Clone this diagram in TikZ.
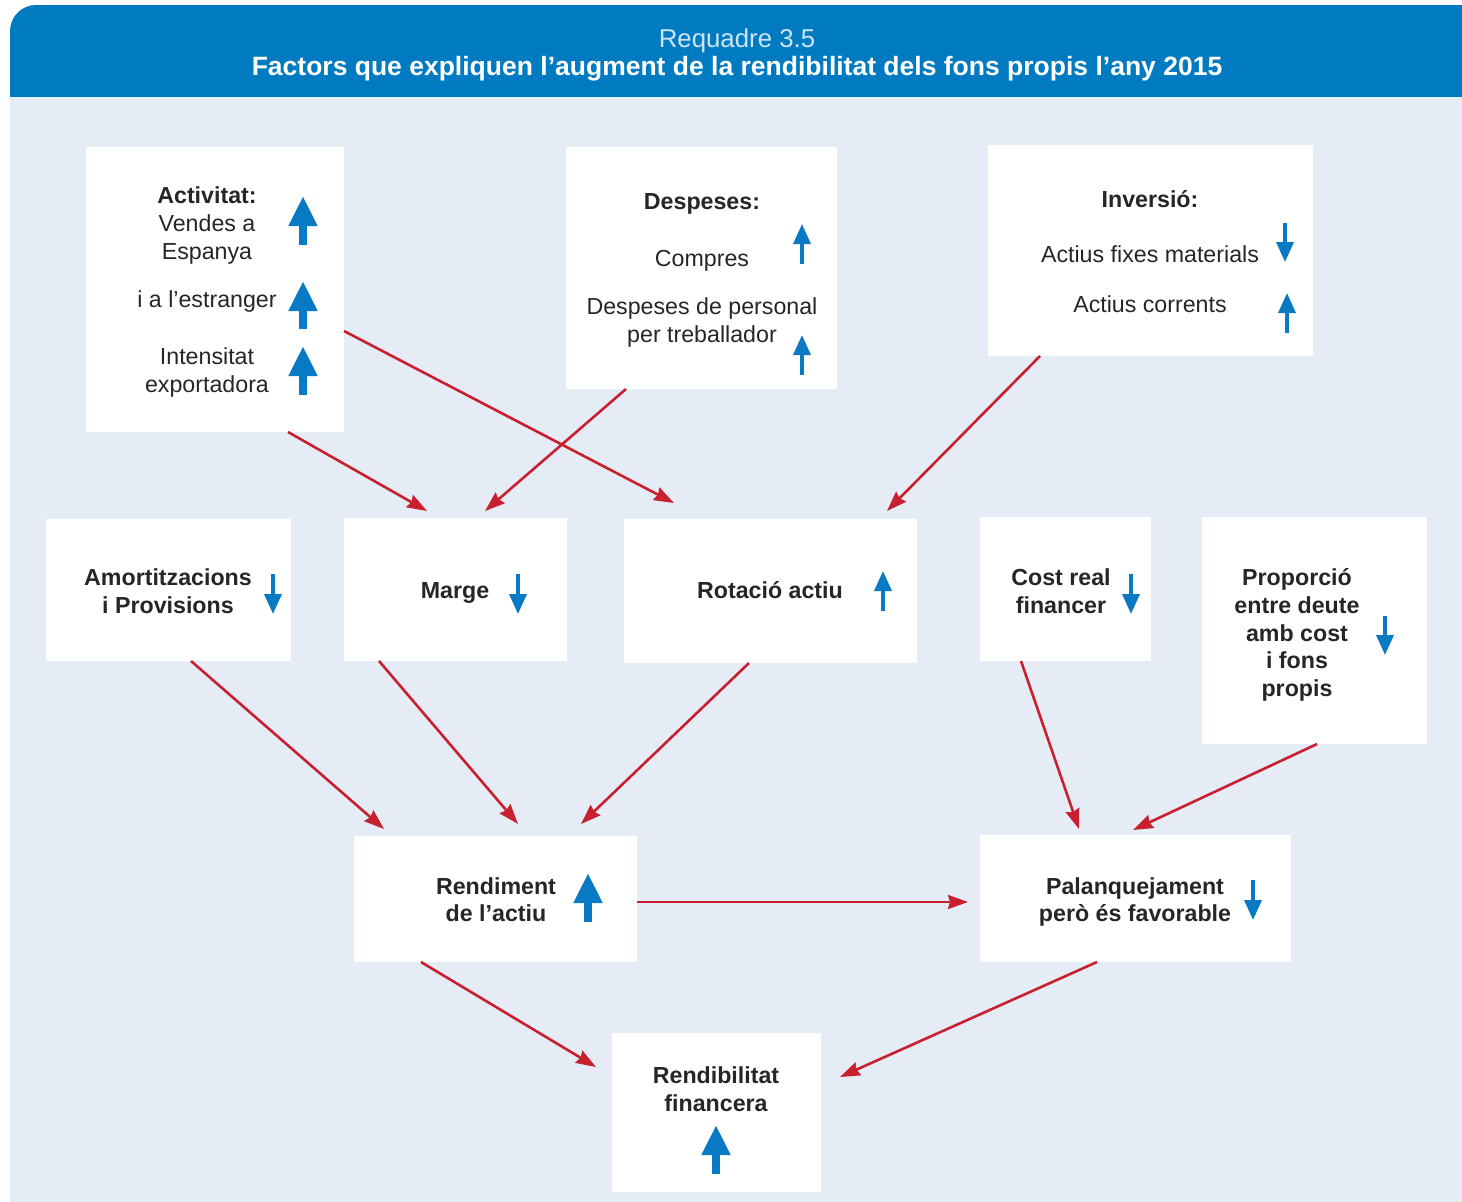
\documentclass[tikz,border=0pt]{standalone}
\usepackage{fontspec}
\setmainfont{Liberation Sans}
\usetikzlibrary{arrows.meta}
\definecolor{hdr}{RGB}{0,123,193}
\definecolor{bg}{RGB}{230,236,246}
\definecolor{redar}{RGB}{200,32,46}
\definecolor{bluar}{RGB}{8,122,196}
\definecolor{ink}{RGB}{38,38,38}
\definecolor{hdrlight}{RGB}{205,228,244}
\begin{document}
\begin{tikzpicture}[x=1pt,y=-1pt,
  box/.style={fill=white, draw=none, inner sep=0pt, outer sep=0pt},
  txt/.style={inner sep=0pt, anchor=base, text=ink, font=\fontsize{23.2}{28}\selectfont},
  btxt/.style={txt, font=\fontsize{23.2}{28}\selectfont\bfseries},
  link/.style={draw=redar, line width=2.6pt, -{Stealth[length=20pt,width=14pt,inset=2pt]}},
  bigar/.style={draw=bluar, line width=8pt, -{Triangle[length=30pt,width=27pt]}},
  smallar/.style={draw=bluar, line width=3.5pt, -{Triangle[length=20pt,width=17pt]}},
]
\clip (0,0) rectangle (1462,1202);
\fill[white] (0,0) rectangle (1462,1202);
% header
\fill[hdr, rounded corners=26pt] (10,150) -- (10,5) -- (1520,5) -- (1520,150) -- cycle;
\fill[bg] (10,97) rectangle (1462,1202);
\node[txt, text=hdrlight, font=\fontsize{25.8}{30}\selectfont] (hd1) at (737,47) {Requadre 3.5};
\node[btxt, text=white, font=\fontsize{26.5}{30}\selectfont\bfseries] (hd2) at (737,75) {Factors que expliquen l’augment de la rendibilitat dels fons propis l’any 2015};

% boxes
\node[box, minimum width=258pt, minimum height=285pt] (act) at (215,289.5) {};
\node[box, minimum width=271pt, minimum height=242pt] (desp) at (701.5,268) {};
\node[box, minimum width=325pt, minimum height=211pt] (inv) at (1150.5,250.5) {};
\node[box, minimum width=245pt, minimum height=142pt] (amort) at (168.5,590) {};
\node[box, minimum width=223pt, minimum height=143pt] (marge) at (455.5,589.5) {};
\node[box, minimum width=293pt, minimum height=144pt] (rot) at (770.5,591) {};
\node[box, minimum width=171pt, minimum height=144pt] (cost) at (1065.5,589) {};
\node[box, minimum width=225pt, minimum height=227pt] (prop) at (1314.5,630.5) {};
\node[box, minimum width=283pt, minimum height=126pt] (rend) at (495.5,899) {};
\node[box, minimum width=311pt, minimum height=127pt] (pal) at (1135.5,898.5) {};
\node[box, minimum width=209pt, minimum height=159pt] (rfin) at (716.5,1112.5) {};

% texts
\node[btxt] (a1) at (207,203) {Activitat:};
\node[txt] (a2) at (207,231) {Vendes a};
\node[txt] (a3) at (207,259) {Espanya};
\node[txt] (a4) at (207,307) {i a l’estranger};
\node[txt] (a5) at (207,364) {Intensitat};
\node[txt] (a6) at (207,392) {exportadora};

\node[btxt] (d1) at (702,209) {Despeses:};
\node[txt] (d2) at (702,266) {Compres};
\node[txt] (d3) at (702,314) {Despeses de personal};
\node[txt] (d4) at (702,342) {per treballador};

\node[btxt] (i1) at (1150,207) {Inversió:};
\node[txt] (i2) at (1150,262) {Actius fixes materials};
\node[txt] (i3) at (1150,312) {Actius corrents};

\node[btxt] (m1) at (168,585) {Amortitzacions};
\node[btxt] (m2) at (168,613) {i Provisions};
\node[btxt] (mg) at (455,598) {Marge};
\node[btxt] (ro) at (770,598) {Rotació actiu};
\node[btxt] (c1) at (1061,585) {Cost real};
\node[btxt] (c2) at (1061,613) {financer};
\node[btxt] (p1) at (1297,585) {Proporció};
\node[btxt] (p2) at (1297,613) {entre deute};
\node[btxt] (p3) at (1297,641) {amb cost};
\node[btxt] (p4) at (1297,668) {i fons};
\node[btxt] (p5) at (1297,696) {propis};
\node[btxt] (r1) at (496,894) {Rendiment};
\node[btxt] (r2) at (496,921) {de l’actiu};
\node[btxt] (l1) at (1135,894) {Palanquejament};
\node[btxt] (l2) at (1135,921) {però és favorable};
\node[btxt] (f1) at (716,1083) {Rendibilitat};
\node[btxt] (f2) at (716,1111) {financera};

% blue indicator arrows
\draw[bigar] (303,245) -- (303,196);
\draw[bigar] (303,329) -- (303,281);
\draw[bigar] (303,395) -- (303,346);
\draw[smallar] (802,264) -- (802,224);
\draw[smallar] (802,375) -- (802,335);
\draw[smallar] (1285,223) -- (1285,262);
\draw[smallar] (1287,333) -- (1287,293);
\draw[smallar] (273,574) -- (273,614);
\draw[smallar] (518,574) -- (518,614);
\draw[smallar] (883,611) -- (883,571);
\draw[smallar] (1131,574) -- (1131,614);
\draw[smallar] (1385,616) -- (1385,655);
\draw[bigar] (588,922) -- (588,873);
\draw[smallar] (1253,880) -- (1253,920);
\draw[bigar] (716,1174) -- (716,1125);

% connector ends
\coordinate (e1) at (427,511);
\coordinate (e2) at (674,503);
\coordinate (e3) at (485,511);
\coordinate (e4) at (887,511);
\coordinate (e5) at (384,829);
\coordinate (e6) at (518,824);
\coordinate (e7) at (581,824);
\coordinate (e8) at (1079,829);
\coordinate (e9) at (1133,830);
\coordinate (e10) at (968,902);
\coordinate (e11) at (596,1067);
\coordinate (e12) at (840,1077);

% red connectors
\draw[link] ([xshift=202pt]act.south west) -- (e1);
\draw[link] ([yshift=-184pt]act.north east) -- (e2);
\draw[link] ([xshift=60pt]desp.south west) -- (e3);
\draw[link] ([xshift=52pt]inv.south west) -- (e4);
\draw[link] ([xshift=145pt]amort.south west) -- (e5);
\draw[link] ([xshift=35pt]marge.south west) -- (e6);
\draw[link] ([xshift=125pt]rot.south west) -- (e7);
\draw[link] ([xshift=41pt]cost.south west) -- (e8);
\draw[link] ([xshift=115pt]prop.south west) -- (e9);
\draw[link] ([yshift=-3pt]rend.east) -- (e10);
\draw[link] ([xshift=67pt]rend.south west) -- (e11);
\draw[link] ([xshift=117pt]pal.south west) -- (e12);
\end{tikzpicture}
\end{document}
